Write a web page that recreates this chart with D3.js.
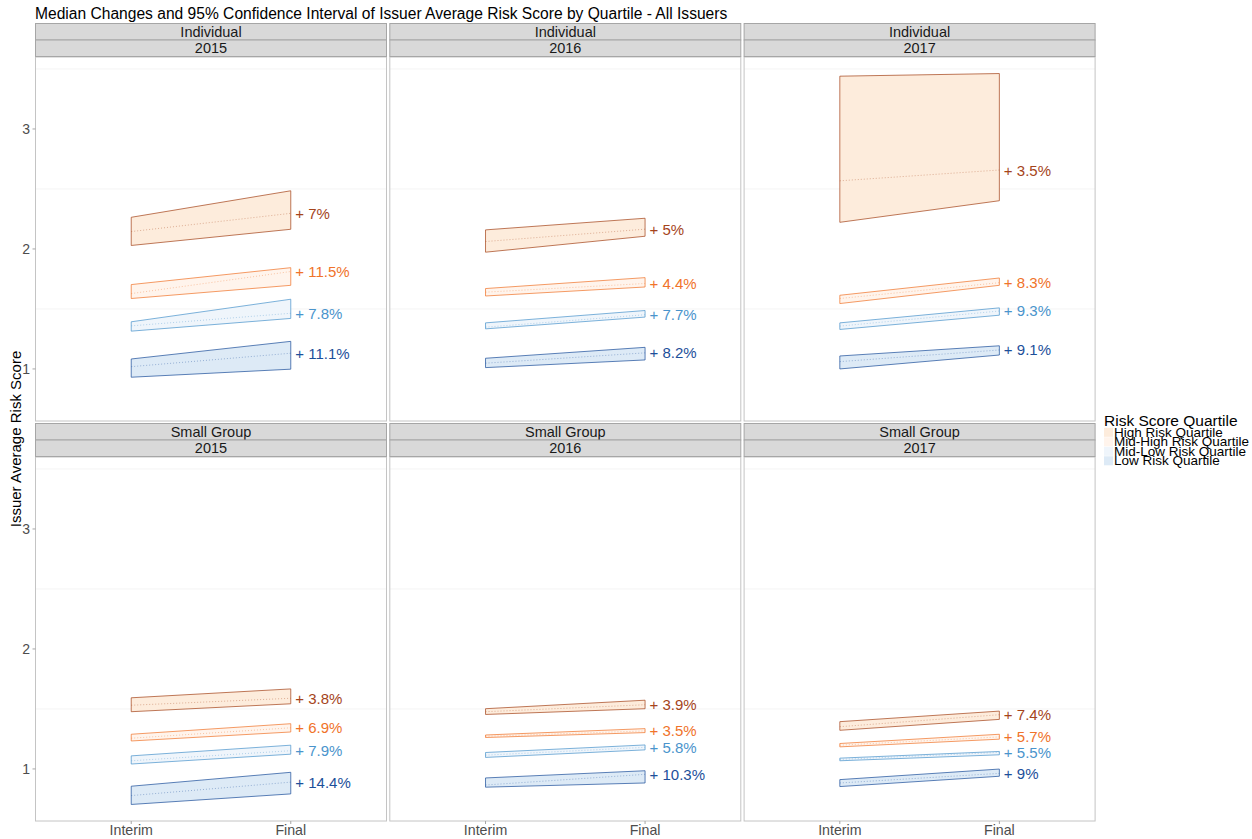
<!DOCTYPE html>
<html>
<head>
<meta charset="utf-8">
<script src="https://cdn.jsdelivr.net/npm/d3@7"></script>
<style>
  body { margin: 0; background: #fff; }
  svg { font-family: "Liberation Sans", Arial, sans-serif; }
</style>
</head>
<body>
<div class="chart"></div>
<script>
// Facets and categories
var markets = ["Individual", "Small Group"];
var years = ["2015", "2016", "2017"];
var stages = ["Interim", "Final"];
var quartiles = ["High Risk Quartile", "Mid-High Risk Quartile", "Mid-Low Risk Quartile", "Low Risk Quartile"];

// One row per panel (Ind 2015, Ind 2016, Ind 2017, SG 2015, SG 2016, SG 2017),
// one value per quartile (High, Mid-High, Mid-Low, Low)
var interimLower = [
    [2.029, 1.587, 1.315, 0.931],
    [1.973, 1.608, 1.334, 1.011],
    [2.222, 1.545, 1.329, 1.000],
    [1.477, 1.233, 1.041, 0.704],
    [1.454, 1.262, 1.096, 0.848],
    [1.322, 1.184, 1.068, 0.853]
];
var interimMedian = [
    [2.145, 1.628, 1.359, 1.019],
    [2.062, 1.640, 1.348, 1.048],
    [2.568, 1.587, 1.357, 1.061],
    [1.531, 1.256, 1.068, 0.778],
    [1.477, 1.272, 1.115, 0.866],
    [1.352, 1.198, 1.079, 0.883]
];
var interimUpper = [
    [2.264, 1.703, 1.393, 1.083],
    [2.159, 1.670, 1.384, 1.089],
    [3.440, 1.614, 1.384, 1.108],
    [1.593, 1.289, 1.109, 0.856],
    [1.502, 1.283, 1.137, 0.925],
    [1.394, 1.212, 1.090, 0.911]
];
var finalLower = [
    [2.164, 1.697, 1.421, 0.998],
    [2.106, 1.683, 1.432, 1.075],
    [2.402, 1.697, 1.448, 1.116],
    [1.543, 1.308, 1.123, 0.792],
    [1.502, 1.303, 1.159, 0.883],
    [1.413, 1.248, 1.118, 0.939]
];
var finalMedian = [
    [2.297, 1.812, 1.464, 1.131],
    [2.165, 1.712, 1.452, 1.134],
    [2.658, 1.719, 1.483, 1.158],
    [1.589, 1.343, 1.152, 0.890],
    [1.535, 1.317, 1.180, 0.955],
    [1.452, 1.267, 1.138, 0.963]
];
var finalUpper = [
    [2.485, 1.844, 1.581, 1.230],
    [2.256, 1.761, 1.487, 1.180],
    [3.462, 1.758, 1.509, 1.193],
    [1.667, 1.377, 1.198, 0.972],
    [1.573, 1.336, 1.200, 0.985],
    [1.482, 1.289, 1.146, 0.999]
];
var changeLabels = [
    ["7%", "11.5%", "7.8%", "11.1%"],
    ["5%", "4.4%", "7.7%", "8.2%"],
    ["3.5%", "8.3%", "9.3%", "9.1%"],
    ["3.8%", "6.9%", "7.9%", "14.4%"],
    ["3.9%", "3.5%", "5.8%", "10.3%"],
    ["7.4%", "5.7%", "5.5%", "9%"]
];
var yTicks = [1, 2, 3];
var yGrid = [1.5, 2.5, 3.5];

var lineColors = ["#a5441b", "#f0732a", "#4a94cc", "#1d4f9a"];
var fillColors = ["#fdecdc", "#fff4ec", "#eff5fb", "#ddeaf6"];

var width = 1252, height = 839;
var svg = d3.select(".chart").append("svg").attr("width", width).attr("height", height);

// Layout
var panelLeft = 35.5, panelW = 351, gapX = 3.3;
var panelTops = [57, 457], panelH = 364;
var stripH = 16.5;

// Shared y scale with 5% expansion like ggplot
var allVals = d3.merge([].concat(interimLower, interimUpper, finalLower, finalUpper));
var yMin = d3.min(allVals), yMax = d3.max(allVals);
var pad = (yMax - yMin) * 0.05;
var y = d3.scaleLinear().domain([yMin - pad, yMax + pad]).range([panelH, 0]);
var x = d3.scalePoint().domain(stages).range([0, panelW]).padding(0.6);

var color = d3.scaleOrdinal().domain(quartiles).range(lineColors);
var fill = d3.scaleOrdinal().domain(quartiles).range(fillColors);

// Title
svg.append("text").attr("x", 35).attr("y", 18.5).attr("font-size", "15.6px").attr("fill", "#000")
    .text("Median Changes and 95% Confidence Interval of Issuer Average Risk Score by Quartile - All Issuers");

// Y axis title
svg.append("text").attr("transform", "translate(21," + ((panelTops[0] + panelTops[1] + panelH) / 2) + ") rotate(-90)")
    .attr("text-anchor", "middle").attr("font-size", "15px").attr("fill", "#000")
    .text("Issuer Average Risk Score");

markets.forEach(function(market, r) {
    years.forEach(function(year, c) {
        var p = r * years.length + c;
        var px = panelLeft + c * (panelW + gapX);
        var py = panelTops[r];
        var g = svg.append("g").attr("transform", "translate(" + px + "," + py + ")");

        // minor grid
        g.selectAll(".grid").data(yGrid.filter(function(v) { return v < y.domain()[1]; })).enter().append("line")
            .attr("x1", 0).attr("x2", panelW)
            .attr("y1", function(d) { return y(d); }).attr("y2", function(d) { return y(d); })
            .attr("stroke", "#f4f4f4").attr("stroke-width", 1);

        // panel border
        g.append("rect").attr("x", 0).attr("y", 0).attr("width", panelW).attr("height", panelH)
            .attr("fill", "none").attr("stroke", "#c4c4c4").attr("stroke-width", 1);

        // strips
        [market, year].forEach(function(lab, k) {
            var sy = -2 * stripH + k * stripH - 0.5;
            g.append("rect").attr("x", 0).attr("y", sy).attr("width", panelW).attr("height", stripH)
                .attr("fill", "#d9d9d9").attr("stroke", "#a6a6a6").attr("stroke-width", 1);
            g.append("text").attr("x", panelW / 2).attr("y", sy + stripH / 2 + 5)
                .attr("text-anchor", "middle").attr("font-size", "14.5px").attr("fill", "#1a1a1a").text(lab);
        });

        // ribbons
        quartiles.forEach(function(q, i) {
            var pts = [
                [x("Interim"), y(interimUpper[p][i])],
                [x("Final"), y(finalUpper[p][i])],
                [x("Final"), y(finalLower[p][i])],
                [x("Interim"), y(interimLower[p][i])]
            ];
            g.append("path").attr("d", d3.line()(pts) + "Z")
                .attr("fill", fill(q)).attr("stroke", color(q)).attr("stroke-width", 0.9).attr("stroke-opacity", 0.8);
            g.append("line")
                .attr("x1", x("Interim")).attr("y1", y(interimMedian[p][i]))
                .attr("x2", x("Final")).attr("y2", y(finalMedian[p][i]))
                .attr("stroke", color(q)).attr("stroke-width", 0.7).attr("stroke-opacity", 0.55)
                .attr("stroke-dasharray", "1,2");
            g.append("text").attr("x", x("Final") + 4.5).attr("y", y(finalMedian[p][i]) + 5.5)
                .attr("font-size", "15px").attr("fill", color(q))
                .text("+ " + changeLabels[p][i]);
        });

        // y axis on first column
        if (c === 0) {
            yTicks.forEach(function(t) {
                g.append("line").attr("x1", -3).attr("x2", 0).attr("y1", y(t)).attr("y2", y(t))
                    .attr("stroke", "#a6a6a6");
                g.append("text").attr("x", -5.5).attr("y", y(t) + 4.8).attr("text-anchor", "end")
                    .attr("font-size", "14px").attr("fill", "#4d4d4d").text(t);
            });
        }
        // x axis on bottom row
        if (r === markets.length - 1) {
            stages.forEach(function(s) {
                g.append("line").attr("x1", x(s)).attr("x2", x(s)).attr("y1", panelH).attr("y2", panelH + 3)
                    .attr("stroke", "#a6a6a6");
                g.append("text").attr("x", x(s)).attr("y", panelH + 13.5).attr("text-anchor", "middle")
                    .attr("font-size", "14.2px").attr("fill", "#4d4d4d").text(s);
            });
        }
    });
});

// Legend (labels sit tightly stacked, as in the original)
var legend = svg.append("g").attr("transform", "translate(1104,0)");
legend.append("text").attr("x", 0).attr("y", 425.5).attr("font-size", "15.5px").attr("fill", "#000")
    .text("Risk Score Quartile");
quartiles.forEach(function(q, i) {
    var cy = 432.3 + i * 9.5;
    legend.append("rect").attr("x", 0).attr("y", cy - 4.5).attr("width", 9).attr("height", 9)
        .attr("fill", fill(q));
    legend.append("text").attr("x", 10).attr("y", cy + 4.6).attr("font-size", "13.5px").attr("fill", "#000")
        .text(q);
});
</script>
</body>
</html>
